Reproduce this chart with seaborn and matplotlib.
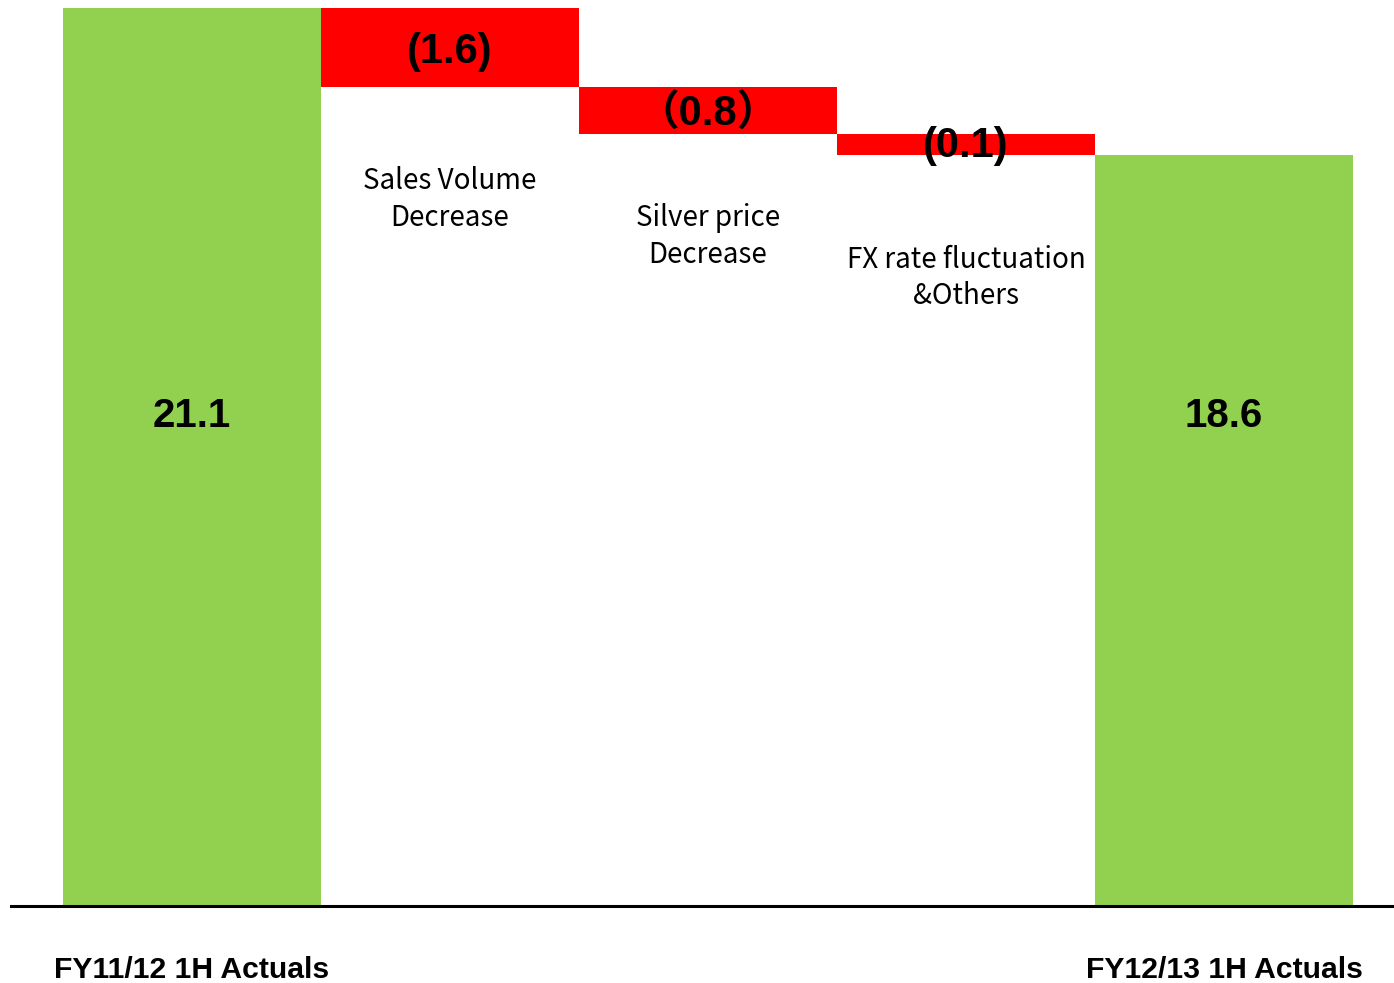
import numpy as np
import pandas as pd
import seaborn as sns
import matplotlib.pyplot as plt

# waterfall data (bar heights, labels as printed)
steps = ['FY11/12 1H Actuals', 'Sales Volume\nDecrease', 'Silver price\nDecrease',
         'FX rate fluctuation\n&Others', 'FY12/13 1H Actuals']
start_value = 21.1
decreases = [1.34, 0.80, 0.36]
value_labels = ['21.1', '(1.6)', '（0.8）', '(0.1)', '18.6']
axis_floor = 5.80

GREEN = '#92D050'
RED = '#FF0000'

end_value = start_value - sum(decreases)
tops = [start_value] + list(start_value - np.cumsum([0] + decreases[:-1])) + [end_value]
heights = [start_value] + decreases + [end_value]
bottoms = [0] + [t - d for t, d in zip(tops[1:4], decreases)] + [0]

df = pd.DataFrame({'step': steps, 'height': heights, 'bottom': bottoms, 'top': tops})

sns.set_style('white')
plt.rcParams['font.family'] = ['Liberation Sans', 'Noto Sans CJK JP', 'DejaVu Sans']
plt.rcParams['text.color'] = 'black'
plt.rcParams['xtick.color'] = 'black'

fig = plt.figure(figsize=(13.94, 9.83), dpi=100)
ax = fig.add_axes([11 / 1394, 1 - 906 / 983, 1383 / 1394, 898 / 983])

sns.barplot(data=df, x='step', y='height', bottom=df['bottom'].values,
            width=1.0, color=GREEN, saturation=1, ax=ax)
for i, patch in enumerate(ax.patches):
    patch.set_facecolor(GREEN if i in (0, 4) else RED)
    patch.set_edgecolor('none')

ax.set_xlim(-0.5 - 52 / 258, 4.5 + 41 / 258)
ax.set_ylim(axis_floor, start_value)

for side in ['top', 'right', 'left']:
    ax.spines[side].set_visible(False)
ax.spines['bottom'].set_linewidth(2.2)
ax.spines['bottom'].set_color('black')
ax.set_yticks([])
ax.set_xticks([0, 4])
ax.set_xticklabels([steps[0], steps[4]], fontsize=21.7, fontweight='bold',
                   family=['Liberation Sans', 'DejaVu Sans'], color='black')
ax.tick_params(axis='x', length=0, pad=36)
ax.set_xlabel('')
ax.set_ylabel('')

# value labels
label_nudge = [0, 0, 0, 3, 0]  # px upward
for i in (1, 2, 3):
    ax.annotate(value_labels[i], xy=(i, df['top'][i] - decreases[i - 1] / 2),
                xytext=(0, label_nudge[i] * 0.72), textcoords='offset points',
                ha='center', va='center_baseline', fontsize=30, fontweight='bold',
                family=['Liberation Sans', 'Noto Sans CJK JP'], color='black')
for i in (0, 4):
    ax.text(i, 0.55, value_labels[i], transform=ax.get_xaxis_transform(),
            ha='center', va='center_baseline', fontsize=29, fontweight='bold',
            color='black')

# category captions under the red steps
caption_offsets = [-113, -103, -123]
for i, off in zip((1, 2, 3), caption_offsets):
    ax.annotate(steps[i], xy=(i, df['bottom'][i]), xytext=(0, off * 0.72),
                textcoords='offset points', ha='center', va='center',
                fontsize=20, linespacing=1.28, family=['Noto Sans CJK JP'],
                color='black')

fig.savefig('out.png', dpi=100)
